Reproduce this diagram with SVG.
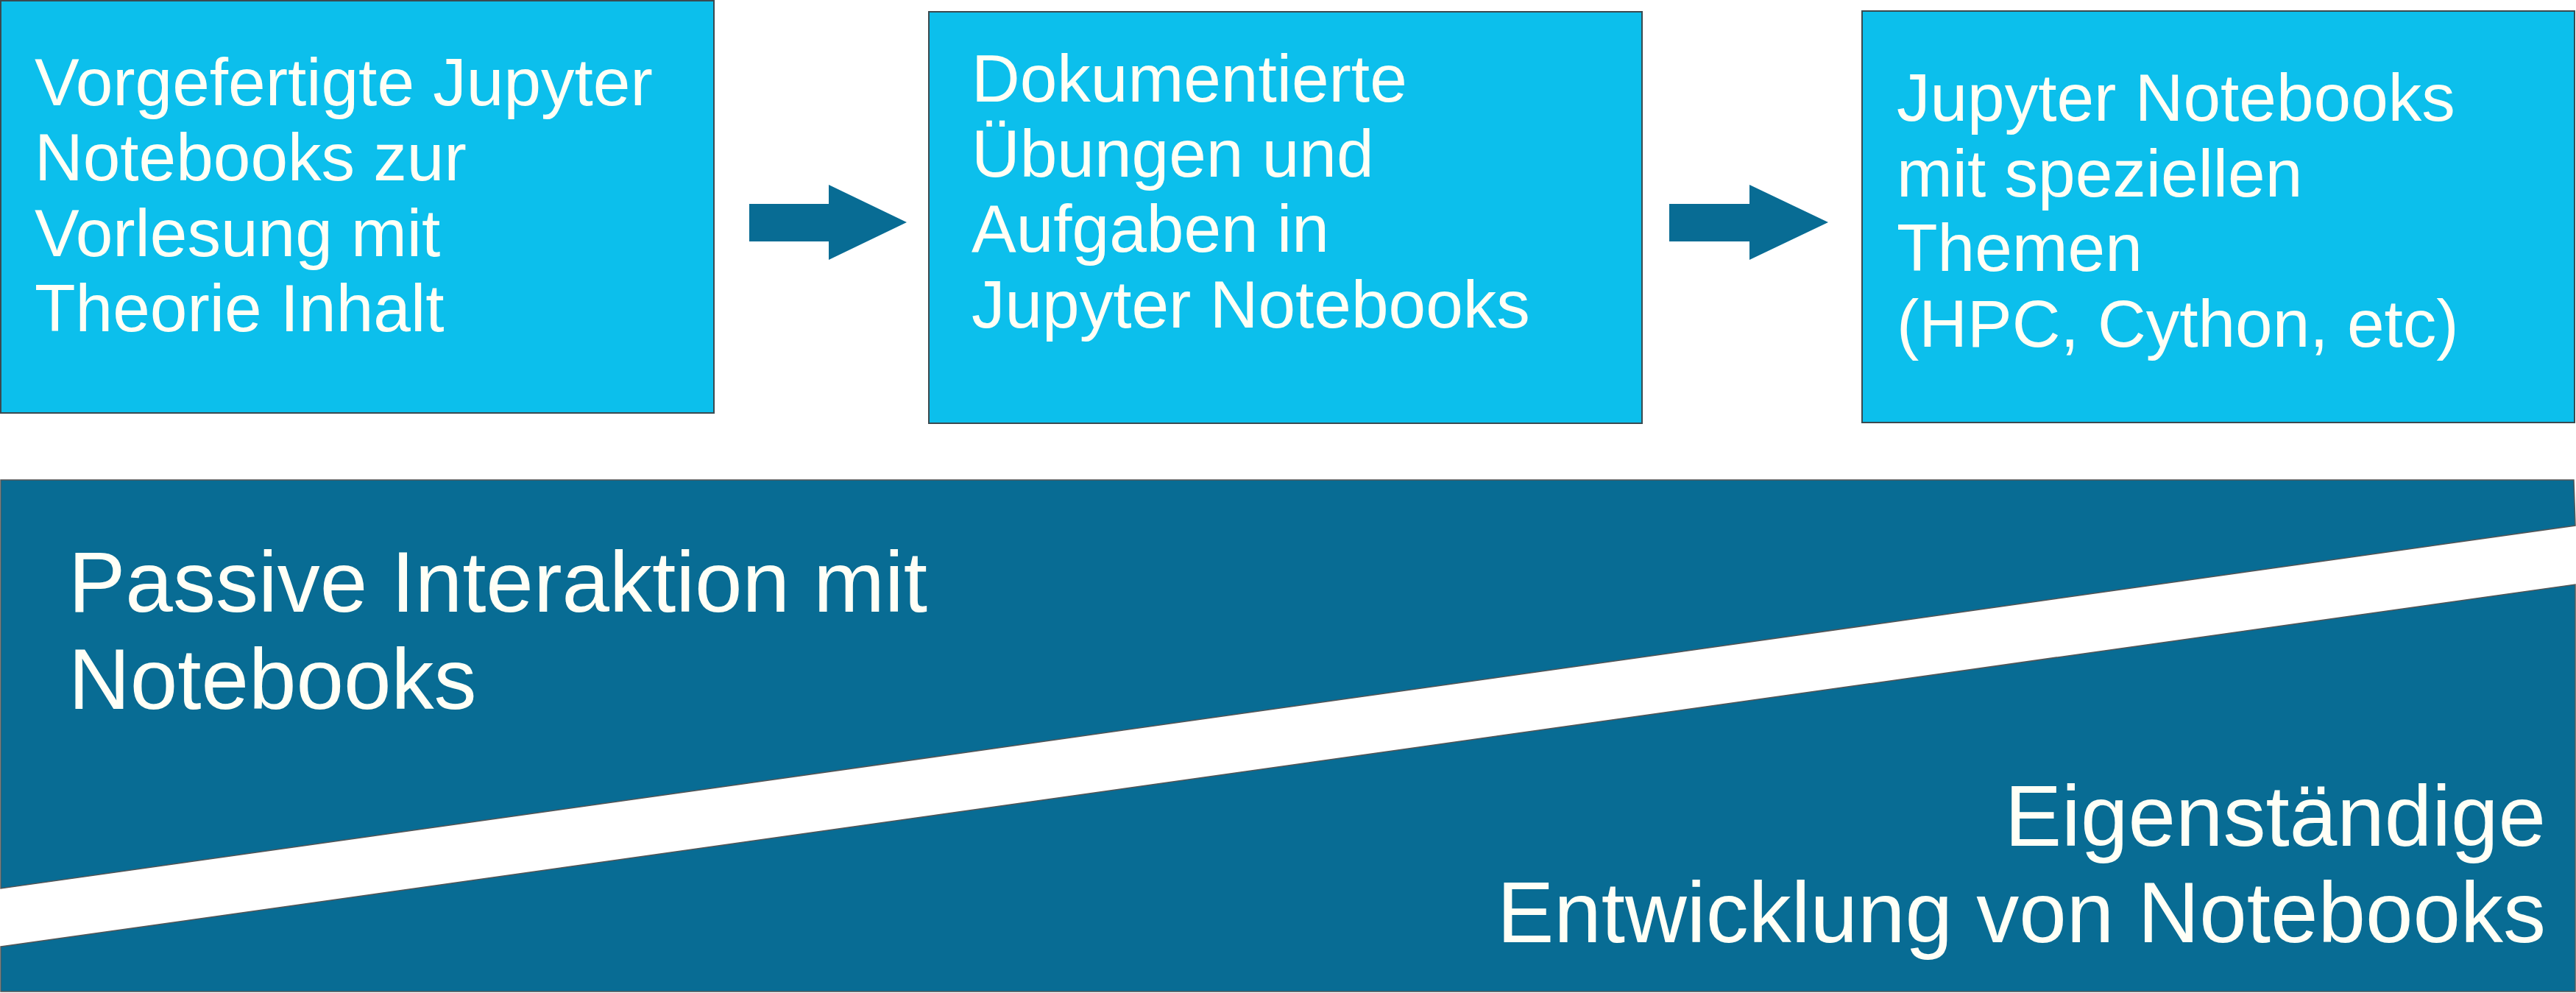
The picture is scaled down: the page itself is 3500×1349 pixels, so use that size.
<svg xmlns="http://www.w3.org/2000/svg" width="3500" height="1349" viewBox="0 0 3500 1349">
<style>
.box{fill:#0CBFEC;stroke:#3a4a50;stroke-width:2}
.dark{fill:#086C94;stroke:#555;stroke-width:1.5}
.arrow{fill:#086C94}
.t{font-family:"Liberation Sans",Arial,sans-serif;fill:#FFFFF6}
.s{font-size:91px}
.l{font-size:116px}
</style>
<rect width="3500" height="1349" fill="#ffffff"/>
<g id="band">
<polygon class="dark" points="1,652 3497,652 3499,714 1,1207"/>
<polygon class="dark" points="1,1286 3499,794 3499,1347 1,1347"/>
<text class="t l" x="93" y="831">Passive Interaktion mit</text>
<text class="t l" x="93" y="963">Notebooks</text>
<text class="t l" x="3459" y="1149" text-anchor="end">Eigenständige</text>
<text class="t l" x="3459" y="1280" text-anchor="end">Entwicklung von Notebooks</text>
</g>
<g id="node1">
<rect class="box" x="1" y="1" width="969" height="560"/>
<text class="t s" x="47" y="143">Vorgefertigte Jupyter</text>
<text class="t s" x="47" y="245">Notebooks zur</text>
<text class="t s" x="47" y="348">Vorlesung mit</text>
<text class="t s" x="47" y="450">Theorie Inhalt</text>
</g>
<g id="node2">
<rect class="box" x="1262" y="16" width="969" height="559"/>
<text class="t s" x="1320" y="138">Dokumentierte</text>
<text class="t s" x="1320" y="240">Übungen und</text>
<text class="t s" x="1320" y="342">Aufgaben in</text>
<text class="t s" x="1320" y="445">Jupyter Notebooks</text>
</g>
<g id="node3">
<rect class="box" x="2530" y="15" width="968" height="559"/>
<text class="t s" x="2577" y="164">Jupyter Notebooks</text>
<text class="t s" x="2577" y="267">mit speziellen</text>
<text class="t s" x="2577" y="368">Themen</text>
<text class="t s" x="2577" y="471">(HPC, Cython, etc)</text>
</g>
<g id="connectors">
<polygon class="arrow" points="1018,277 1126,277 1126,251 1232,302 1126,353 1126,328 1018,328"/>
<polygon class="arrow" points="2268,277 2377,277 2377,251 2484,302 2377,353 2377,328 2268,328"/>
</g>
</svg>
